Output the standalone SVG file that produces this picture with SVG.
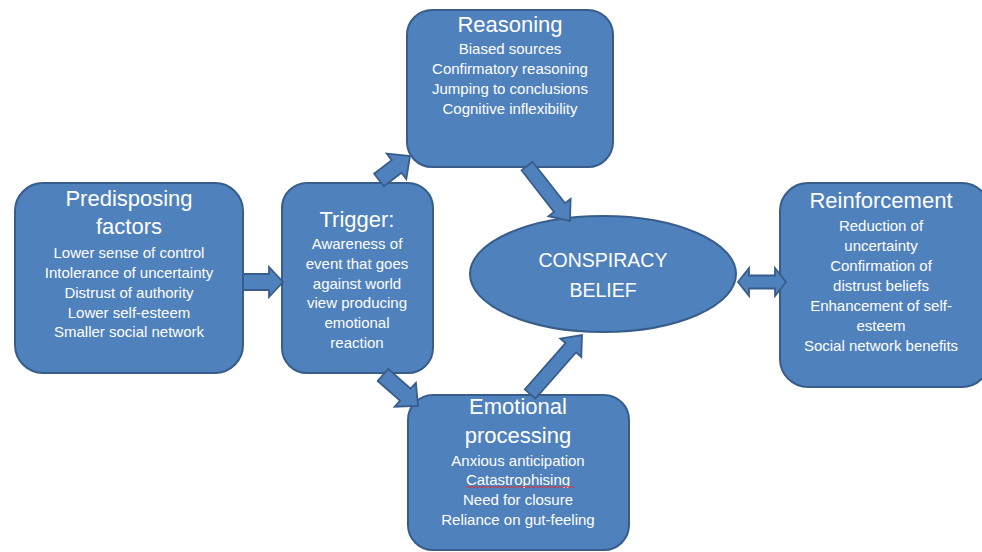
<svg xmlns="http://www.w3.org/2000/svg" width="982" height="552" viewBox="0 0 982 552">
  <style>
    .box { fill: #4f81bd; stroke: #385d8a; stroke-width: 2; }
    .arr { fill: #4f81bd; stroke: #385d8a; stroke-width: 1.8; stroke-linejoin: miter; }
    .t { font-family: "Liberation Sans", Arial, sans-serif; fill: #ffffff; text-anchor: middle; }
    .title { font-size: 22px; }
    .body { font-size: 15px; }
    .big { font-size: 19.5px; }
  </style>
  <rect width="982" height="552" fill="#ffffff"/>

  <g id="predisposing">
    <rect class="box" x="15" y="183" width="228" height="190" rx="28" ry="28"/>
    <text class="t title" x="129" y="206">Predisposing</text>
    <text class="t title" x="129" y="234">factors</text>
    <text class="t body" x="129" y="258">Lower sense of control</text>
    <text class="t body" x="129" y="278">Intolerance of uncertainty</text>
    <text class="t body" x="129" y="298">Distrust of authority</text>
    <text class="t body" x="129" y="318">Lower self-esteem</text>
    <text class="t body" x="129" y="337">Smaller social network</text>
  </g>

  <g id="trigger">
    <rect class="box" x="282" y="183" width="151" height="190" rx="25" ry="25"/>
    <text class="t title" x="357" y="227">Trigger:</text>
    <text class="t body" x="357" y="249">Awareness of</text>
    <text class="t body" x="357" y="269">event that goes</text>
    <text class="t body" x="357" y="289">against world</text>
    <text class="t body" x="357" y="308">view producing</text>
    <text class="t body" x="357" y="328">emotional</text>
    <text class="t body" x="357" y="348">reaction</text>
  </g>

  <g id="reasoning">
    <rect class="box" x="407" y="10" width="206" height="157" rx="25" ry="25"/>
    <text class="t title" x="510" y="32">Reasoning</text>
    <text class="t body" x="510" y="54">Biased sources</text>
    <text class="t body" x="510" y="74">Confirmatory reasoning</text>
    <text class="t body" x="510" y="94">Jumping to conclusions</text>
    <text class="t body" x="510" y="114">Cognitive inflexibility</text>
  </g>

  <g id="emotional">
    <rect class="box" x="408" y="395" width="221" height="155" rx="25" ry="25"/>
    <text class="t title" x="518" y="414">Emotional</text>
    <text class="t title" x="518" y="443">processing</text>
    <text class="t body" x="518" y="466">Anxious anticipation</text>
    <text class="t body" x="518" y="485">Catastrophising</text>
    <text class="t body" x="518" y="505">Need for closure</text>
    <text class="t body" x="518" y="525">Reliance on gut-feeling</text>
    <path d="M466 488 l2 -2 l2 2 l2 -2 l2 2 l2 -2 l2 2 l2 -2 l2 2 l2 -2 l2 2 l2 -2 l2 2 l2 -2 l2 2 l2 -2 l2 2 l2 -2 l2 2 l2 -2 l2 2 l2 -2 l2 2 l2 -2 l2 2 l2 -2 l2 2 l2 -2 l2 2 l2 -2 l2 2 l2 -2 l2 2 l2 -2 l2 2 l2 -2 l2 2 l2 -2 l2 2 l2 -2 l2 2 l2 -2 l2 2 l2 -2 l2 2 l2 -2 l2 2 l2 -2 l2 2 l2 -2 l2 2 l2 -2 l2 2 l2 -2 l2 2" fill="none" stroke="#e03030" stroke-width="1"/>
  </g>

  <g id="conspiracy">
    <ellipse class="box" cx="603" cy="274" rx="133" ry="58"/>
    <text class="t big" x="603" y="267">CONSPIRACY</text>
    <text class="t big" x="603" y="297">BELIEF</text>
  </g>

  <g id="reinforcement">
    <rect class="box" x="780" y="183" width="210" height="204" rx="28" ry="28"/>
    <text class="t title" x="881" y="208">Reinforcement</text>
    <text class="t body" x="881" y="231">Reduction of</text>
    <text class="t body" x="881" y="251">uncertainty</text>
    <text class="t body" x="881" y="271">Confirmation of</text>
    <text class="t body" x="881" y="291">distrust beliefs</text>
    <text class="t body" x="881" y="311">Enhancement of self-</text>
    <text class="t body" x="881" y="331">esteem</text>
    <text class="t body" x="881" y="351">Social network benefits</text>
  </g>

  <g id="connectors">
    <polygon class="arr" points="243,274 269,274 269,267 283,282 269,297 269,290 243,290"/>
    <polygon class="arr" points="383.9,186.3 401.5,172.7 406.3,179.1 410,156 386.8,153.7 391.7,160.1 374.1,173.7"/>
    <polygon class="arr" points="377.7,381 400,400.7 394.7,406.7 418,406 415.9,382.8 410.6,388.7 388.3,369"/>
    <polygon class="arr" points="521.5,170.3 554,211.9 548.5,216.2 570,221 570.6,199 565.1,203.3 532.5,161.7"/>
    <polygon class="arr" points="535.3,398.6 576,352.4 581.3,357 582,335 560.3,338.5 565.5,343.1 524.8,389.4"/>
    <polygon class="arr" points="738,282 749,268 749,275.5 775,275.5 775,268 786,282 775,296 775,288.5 749,288.5 749,296"/>
  </g>
</svg>
